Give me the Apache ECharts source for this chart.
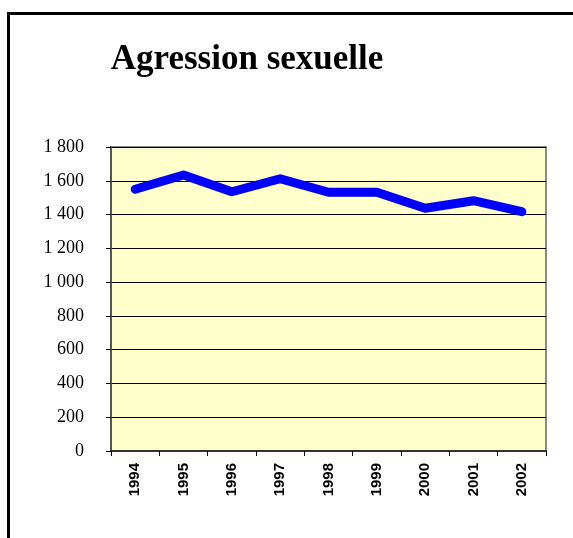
<!DOCTYPE html>
<html><head><meta charset="utf-8">
<script src="https://cdn.jsdelivr.net/npm/echarts@6/dist/echarts.min.js"></script>
<style>html,body{margin:0;padding:0;background:#fff}#c{width:573px;height:538px}</style>
</head><body><div id="c"></div>
<script>
var years = ['1994','1995','1996','1997','1998','1999','2000','2001','2002'];
var values = [1550, 1634, 1535, 1612, 1532, 1532, 1437, 1482, 1417];
var yTicks = {min: 0, max: 1800, interval: 200};
var chart = echarts.init(document.getElementById('c'));
chart.setOption({
  animation: false,
  backgroundColor: '#fff',
  title: {
    text: 'Agression sexuelle', left: 242, top: 37, textAlign: 'center',
    textStyle: {fontFamily: 'Liberation Serif', fontWeight: 'bold', fontSize: 35, color: '#000'}
  },
  graphic: [{
    type: 'rect', shape: {x: 8.5, y: 13.5, width: 700, height: 700},
    style: {fill: 'none', stroke: '#000', lineWidth: 3}, z: 100
  }],
  grid: {left: 111, right: 27, top: 147, bottom: 87, show: true,
    backgroundColor: '#FFFFCC', borderColor: '#8a8a8a', borderWidth: 2},
  xAxis: {
    type: 'category', data: years, boundaryGap: true,
    axisLine: {lineStyle: {color: '#333', width: 2}},
    axisTick: {show: true, length: 5, lineStyle: {color: '#000'}},
    axisLabel: {rotate: 90, margin: 12, fontFamily: 'Liberation Sans', fontWeight: 'bold', fontSize: 15, color: '#000'}
  },
  yAxis: {
    type: 'value', min: yTicks.min, max: yTicks.max, interval: yTicks.interval,
    axisLine: {show: true, lineStyle: {color: '#555', width: 2}},
    axisTick: {show: true, length: 5, lineStyle: {color: '#000'}},
    splitLine: {lineStyle: {color: '#000', width: 1}},
    axisLabel: {margin: 27, fontFamily: 'Liberation Serif', fontSize: 18, color: '#000',
      formatter: function (v) { return String(v).replace(/\B(?=(\d{3})+(?!\d))/g, ' '); }}
  },
  series: [{
    type: 'line', data: values, symbol: 'none',
    lineStyle: {color: '#0000FF', width: 9, cap: 'round', join: 'round'}
  }]
});
</script></body></html>
